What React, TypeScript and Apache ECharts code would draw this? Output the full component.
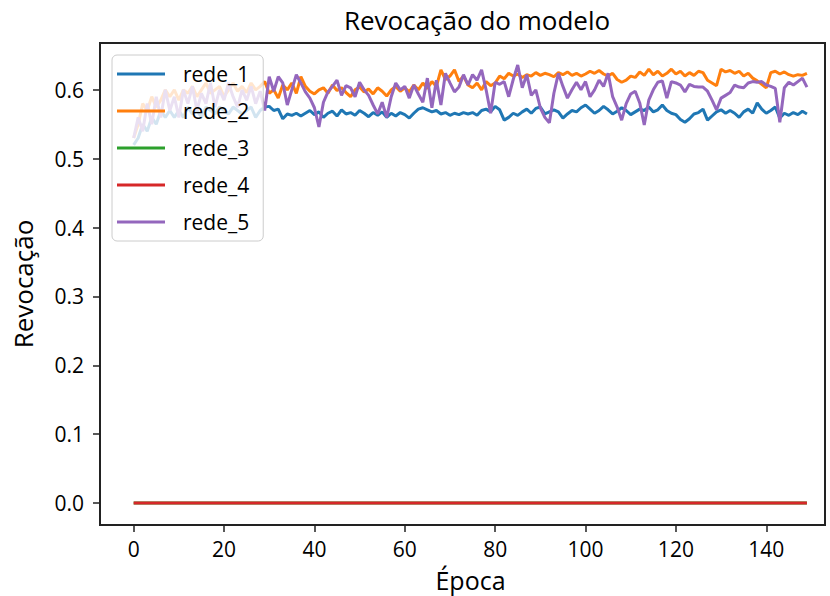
import React, { useEffect, useRef } from "react";
import * as echarts from "echarts";

const seriesNames = ["rede_1", "rede_2", "rede_3", "rede_4", "rede_5"];
const seriesColors = ["#1f77b4", "#ff7f0e", "#2ca02c", "#d62728", "#9467bd"];
const xTicks = [0, 20, 40, 60, 80, 100, 120, 140];
const yTicks = [0, 0.1, 0.2, 0.3, 0.4, 0.5, 0.6];

const rede1 = [
  0.52, 0.53, 0.55, 0.54, 0.56, 0.55, 0.57, 0.56, 0.57, 0.56,
  0.57, 0.56, 0.575, 0.565, 0.57, 0.56, 0.575, 0.57, 0.565, 0.575,
  0.57, 0.565, 0.575, 0.57, 0.565, 0.57, 0.575, 0.56, 0.57, 0.575,
  0.576, 0.57, 0.572, 0.558, 0.565, 0.563, 0.566, 0.562, 0.566, 0.57,
  0.564, 0.568, 0.56, 0.566, 0.569, 0.562, 0.571, 0.565, 0.567, 0.563,
  0.57, 0.566, 0.561, 0.567, 0.563, 0.568, 0.56, 0.566, 0.562, 0.567,
  0.564, 0.559, 0.566, 0.572, 0.574, 0.571, 0.568, 0.57, 0.565, 0.567,
  0.563, 0.566, 0.564, 0.567, 0.565, 0.567, 0.563, 0.57, 0.572, 0.568,
  0.576, 0.571, 0.556, 0.56, 0.566, 0.563, 0.568, 0.572, 0.566, 0.573,
  0.575, 0.565, 0.568, 0.571, 0.568, 0.559, 0.565, 0.57, 0.568, 0.574,
  0.578, 0.572, 0.566, 0.57, 0.576, 0.571, 0.565, 0.569, 0.574, 0.57,
  0.564, 0.568, 0.572, 0.57, 0.575, 0.568, 0.571, 0.578, 0.57, 0.566,
  0.564, 0.557, 0.553, 0.558, 0.565, 0.567, 0.572, 0.556, 0.562, 0.568,
  0.571, 0.566, 0.57, 0.566, 0.56, 0.568, 0.572, 0.566, 0.581, 0.572,
  0.566, 0.57, 0.575, 0.559, 0.566, 0.563, 0.567, 0.564, 0.569, 0.565,
];

const rede2 = [
  0.53, 0.55, 0.58, 0.57, 0.59, 0.575, 0.585, 0.6, 0.59, 0.6,
  0.585, 0.6, 0.595, 0.605, 0.59, 0.6, 0.61, 0.595, 0.6, 0.605,
  0.59, 0.6, 0.61, 0.598, 0.605, 0.596, 0.61, 0.6, 0.605, 0.612,
  0.595, 0.6, 0.588, 0.607, 0.6, 0.61, 0.595, 0.619, 0.605, 0.598,
  0.594, 0.6, 0.603, 0.595, 0.607, 0.599, 0.603, 0.596, 0.59, 0.6,
  0.604, 0.597, 0.601, 0.594, 0.603, 0.598, 0.591, 0.6, 0.605, 0.598,
  0.603, 0.597, 0.607, 0.6, 0.61, 0.602, 0.612, 0.605, 0.629, 0.615,
  0.62, 0.629, 0.612, 0.62, 0.607, 0.603, 0.61, 0.6, 0.612, 0.606,
  0.61, 0.62, 0.616, 0.624, 0.62, 0.623, 0.618, 0.622, 0.62, 0.625,
  0.621, 0.624, 0.622, 0.619, 0.625, 0.622, 0.626, 0.621, 0.624, 0.62,
  0.623, 0.627, 0.624, 0.628, 0.623, 0.62, 0.624, 0.615, 0.611, 0.614,
  0.62, 0.618, 0.626, 0.621, 0.63, 0.622, 0.627, 0.62, 0.624, 0.63,
  0.623, 0.627, 0.62, 0.625, 0.621, 0.627, 0.625, 0.614, 0.61, 0.606,
  0.63, 0.626, 0.628, 0.624, 0.627, 0.62, 0.624, 0.617, 0.613, 0.608,
  0.603, 0.625, 0.627, 0.623, 0.626, 0.622, 0.62, 0.622, 0.621, 0.624,
];

const rede3 = [
  0, 0, 0, 0, 0, 0, 0, 0, 0, 0, 0, 0, 0, 0, 0, 0, 0, 0, 0, 0, 0, 0, 0, 0, 0,
  0, 0, 0, 0, 0, 0, 0, 0, 0, 0, 0, 0, 0, 0, 0, 0, 0, 0, 0, 0, 0, 0, 0, 0, 0,
  0, 0, 0, 0, 0, 0, 0, 0, 0, 0, 0, 0, 0, 0, 0, 0, 0, 0, 0, 0, 0, 0, 0, 0, 0,
  0, 0, 0, 0, 0, 0, 0, 0, 0, 0, 0, 0, 0, 0, 0, 0, 0, 0, 0, 0, 0, 0, 0, 0, 0,
  0, 0, 0, 0, 0, 0, 0, 0, 0, 0, 0, 0, 0, 0, 0, 0, 0, 0, 0, 0, 0, 0, 0, 0, 0,
  0, 0, 0, 0, 0, 0, 0, 0, 0, 0, 0, 0, 0, 0, 0, 0, 0, 0, 0, 0, 0, 0, 0, 0, 0,
];

const rede4 = [
  0, 0, 0, 0, 0, 0, 0, 0, 0, 0, 0, 0, 0, 0, 0, 0, 0, 0, 0, 0, 0, 0, 0, 0, 0,
  0, 0, 0, 0, 0, 0, 0, 0, 0, 0, 0, 0, 0, 0, 0, 0, 0, 0, 0, 0, 0, 0, 0, 0, 0,
  0, 0, 0, 0, 0, 0, 0, 0, 0, 0, 0, 0, 0, 0, 0, 0, 0, 0, 0, 0, 0, 0, 0, 0, 0,
  0, 0, 0, 0, 0, 0, 0, 0, 0, 0, 0, 0, 0, 0, 0, 0, 0, 0, 0, 0, 0, 0, 0, 0, 0,
  0, 0, 0, 0, 0, 0, 0, 0, 0, 0, 0, 0, 0, 0, 0, 0, 0, 0, 0, 0, 0, 0, 0, 0, 0,
  0, 0, 0, 0, 0, 0, 0, 0, 0, 0, 0, 0, 0, 0, 0, 0, 0, 0, 0, 0, 0, 0, 0, 0, 0,
];

const rede5 = [
  0.53, 0.56, 0.54, 0.58, 0.55, 0.59, 0.56, 0.6, 0.57, 0.59,
  0.56, 0.6, 0.58, 0.605, 0.57, 0.595, 0.58, 0.61, 0.575, 0.6,
  0.585, 0.61, 0.59, 0.575, 0.6, 0.585, 0.605, 0.58, 0.598, 0.57,
  0.619, 0.598, 0.619, 0.61, 0.578, 0.6, 0.622, 0.61, 0.597, 0.588,
  0.574, 0.546, 0.582, 0.597, 0.605, 0.614, 0.592, 0.606, 0.603, 0.59,
  0.611, 0.6, 0.592, 0.578, 0.565, 0.582, 0.56, 0.59, 0.61, 0.6,
  0.605, 0.588, 0.607, 0.594, 0.582, 0.617, 0.574, 0.614, 0.578, 0.624,
  0.61, 0.597, 0.604, 0.622, 0.607, 0.622, 0.614, 0.629, 0.6, 0.566,
  0.611, 0.608, 0.612, 0.59, 0.615, 0.636, 0.603, 0.622, 0.592, 0.6,
  0.574, 0.56, 0.552, 0.595, 0.624, 0.605, 0.588, 0.6, 0.611, 0.6,
  0.612, 0.59, 0.6, 0.614, 0.605, 0.624, 0.59, 0.575, 0.556, 0.58,
  0.594, 0.598, 0.581, 0.549, 0.585, 0.6, 0.611, 0.613, 0.588, 0.612,
  0.61, 0.607, 0.597, 0.608, 0.605, 0.604, 0.604, 0.598, 0.585, 0.571,
  0.588, 0.592, 0.596, 0.607, 0.604, 0.603, 0.61, 0.612, 0.611, 0.612,
  0.607, 0.605, 0.602, 0.553, 0.603, 0.611, 0.607, 0.612, 0.617, 0.604,
];

const allValues = [rede1, rede2, rede3, rede4, rede5];

const FONT = "Open Sans";

export default function App() {
  const ref = useRef<HTMLDivElement>(null);

  useEffect(() => {
    if (!ref.current) return;
    const chart = echarts.init(ref.current, undefined, { renderer: "svg" });
    const series = seriesNames.map((name, si) => ({
      name,
      type: "line",
      data: allValues[si].map((v, i) => [i, v]),
      symbol: "none",
      lineStyle: { width: 3, color: seriesColors[si] },
      itemStyle: { color: seriesColors[si] },
      z: 2 + si * 0.01,
    }));
    chart.setOption({
      animation: false,
      backgroundColor: "#ffffff",
      title: {
        text: "Revocação do modelo",
        left: 472,
        textAlign: "center",
        top: 2,
        textStyle: { fontFamily: FONT, fontSize: 26, fontWeight: "normal", color: "#000" },
      },
      grid: {
        left: 100,
        right: 5,
        top: 43,
        bottom: 71,
        show: true,
        borderColor: "#222",
        borderWidth: 2,
        backgroundColor: "transparent",
        outerBoundsMode: "none",
        containLabel: false,
      },
      legend: {
        data: seriesNames,
        orient: "vertical",
        left: 112,
        top: 55,
        padding: [8, 14, 8, 5],
        itemWidth: 48,
        itemHeight: 3,
        itemGap: 15,
        backgroundColor: "rgba(255,255,255,0.8)",
        borderColor: "#cccccc",
        borderWidth: 1,
        borderRadius: 5,
        icon: "rect",
        textStyle: {
          fontFamily: FONT,
          fontSize: 21,
          color: "#000",
          lineHeight: 22,
          padding: [0, 0, 0, 13],
        },
      },
      xAxis: {
        type: "value",
        min: -7.45,
        max: 153,
        name: "Época",
        nameLocation: "middle",
        nameGap: 42,
        nameTextStyle: { fontFamily: FONT, fontSize: 25, lineHeight: 26, color: "#000", padding: [0, 0, 0, 16] },
        axisLine: { show: true, onZero: false, lineStyle: { color: "#222", width: 2 } },
        axisTick: { show: true, length: 7, customValues: xTicks, lineStyle: { color: "#222", width: 1.5 } },
        axisLabel: {
          customValues: xTicks,
          margin: 13,
          fontFamily: FONT,
          fontSize: 21,
          lineHeight: 22,
          color: "#000",
        },
        splitLine: { show: false },
      },
      yAxis: {
        type: "value",
        min: -0.0318,
        max: 0.668,
        name: "Revocação",
        nameLocation: "middle",
        nameGap: 64,
        nameTextStyle: { fontFamily: FONT, fontSize: 26, color: "#000" },
        axisLine: { show: true, onZero: false, lineStyle: { color: "#222", width: 2 } },
        axisTick: { show: true, length: 7, customValues: yTicks, lineStyle: { color: "#222", width: 1.5 } },
        axisLabel: {
          customValues: yTicks,
          margin: 16,
          fontFamily: FONT,
          fontSize: 21,
          color: "#000",
          formatter: (v: number) => v.toFixed(1),
        },
        splitLine: { show: false },
      },
      series,
    });
    return () => chart.dispose();
  }, []);

  return <div ref={ref} style={{ width: 830, height: 596, position: "absolute", left: 0, top: 0 }} />;
}
